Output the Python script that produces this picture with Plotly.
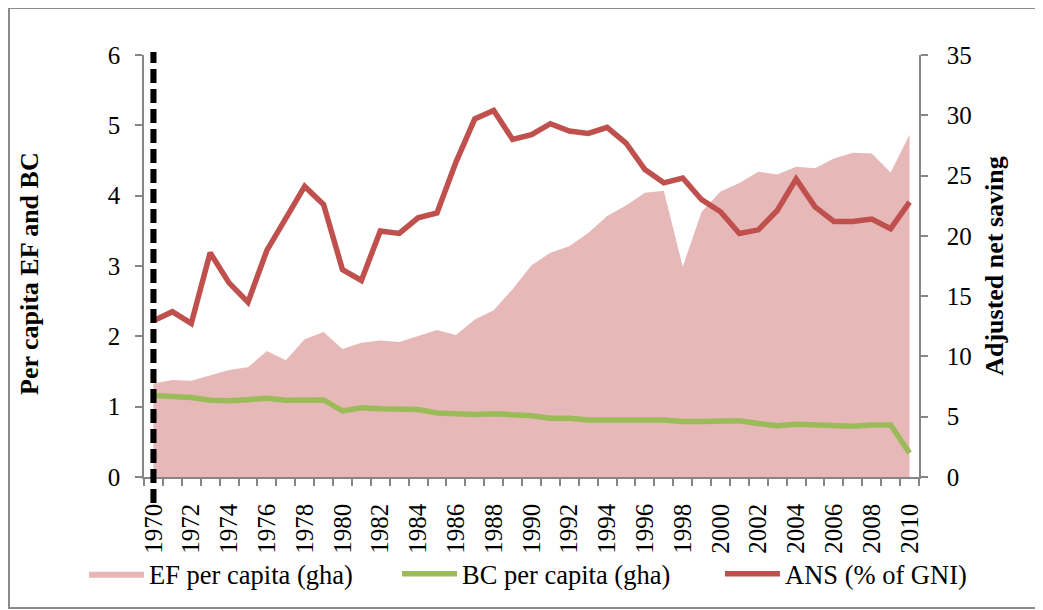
import plotly.graph_objects as go

years = list(range(1970, 2011))

ef_per_capita = [1.33, 1.38, 1.37, 1.45, 1.52, 1.56, 1.79, 1.66, 1.96, 2.06,
                 1.82, 1.91, 1.94, 1.92, 2.00, 2.09, 2.02, 2.24, 2.37, 2.67,
                 3.01, 3.19, 3.28, 3.47, 3.71, 3.86, 4.04, 4.07, 2.99, 3.77,
                 4.06, 4.18, 4.34, 4.30, 4.41, 4.39, 4.53, 4.61, 4.60, 4.33,
                 4.87]

bc_per_capita = [1.16, 1.14, 1.13, 1.09, 1.085, 1.10, 1.12, 1.09, 1.10, 1.095,
                 0.94, 0.985, 0.97, 0.97, 0.96, 0.91, 0.90, 0.89, 0.90, 0.89,
                 0.87, 0.835, 0.835, 0.81, 0.805, 0.805, 0.81, 0.81, 0.79, 0.79,
                 0.79, 0.80, 0.76, 0.73, 0.75, 0.74, 0.725, 0.72, 0.74, 0.74,
                 0.34]

ans_pct_gni = [12.96, 13.71, 12.74, 18.6, 16.1, 14.5, 18.8, 21.4, 24.1, 22.6,
               17.2, 16.3, 20.4, 20.2, 21.5, 21.9, 26.1, 29.7, 30.4, 28.0,
               28.4, 29.3, 28.7, 28.5, 29.0, 27.7, 25.5, 24.4, 24.8, 23.0,
               22.0, 20.2, 20.5, 22.1, 24.7, 22.4, 21.2, 21.2, 21.4, 20.6,
               22.8]

left_ticks = [0, 1, 2, 3, 4, 5, 6]
right_ticks = [0, 5, 10, 15, 20, 25, 30, 35]
x_label_years = list(range(1970, 2011, 2))
marker_year = 1970

names = ["EF per capita (gha)", "BC per capita (gha)", "ANS (% of GNI)"]
left_title = "Per capita EF and BC"
right_title = "Adjusted net saving"

FONT = "Liberation Serif"
W, H = 1043, 610
OFF = 8  # page body margin
# plot area in screen pixels
SL, SR, ST, SB = 144, 919, 55, 477
ML, MT = SL - OFF, ST - OFF
PW, PH = SR - SL, SB - ST
MR, MB = W - ML - PW, H - MT - PH


def px_x(sx):
    return (sx - SL) / PW


def px_y(sy):
    return (SB - sy) / PH


fig = go.Figure()
fig.add_trace(go.Scatter(
    x=years, y=ef_per_capita, name=names[0], mode="lines",
    fill="tozeroy", fillcolor="rgb(230,185,184)",
    line=dict(width=0, color="rgb(230,185,184)"), yaxis="y",
    legendwidth=243))
fig.add_trace(go.Scatter(
    x=years, y=bc_per_capita, name=names[1], mode="lines",
    line=dict(width=5.5, color="#9BBB59"), yaxis="y",
    legendwidth=253))
fig.add_trace(go.Scatter(
    x=years, y=ans_pct_gni, name=names[2], mode="lines",
    line=dict(width=5.5, color="#C0504D"), yaxis="y2",
    legendwidth=190))

axis_gray = "#868686"

shapes = [
    # chart border
    dict(type="rect", xref="paper", yref="paper",
         x0=px_x(9), x1=px_x(1041), y0=px_y(608), y1=px_y(8),
         line=dict(color="#8c8c8c", width=2), layer="below"),
    # shadow of marker line
    dict(type="line", xref="x", yref="paper",
         x0=marker_year, x1=marker_year, x0shift=0.2, x1shift=0.2,
         y0=px_y(503), y1=px_y(52),
         line=dict(color="rgba(0,0,0,0.22)", width=6, dash="14px,6px"),
         layer="above"),
    # marker line
    dict(type="line", xref="x", yref="paper",
         x0=marker_year, x1=marker_year, x0shift=0.08, x1shift=0.08,
         y0=px_y(503), y1=px_y(52),
         line=dict(color="black", width=6, dash="14px,6px"),
         layer="above"),
]

annotations = [
    dict(text="<b>" + left_title + "</b>", xref="paper", yref="paper",
         x=px_x(29), y=px_y(274), xanchor="center", yanchor="middle",
         textangle=-90, showarrow=False,
         font=dict(family=FONT, size=26, color="black")),
]

fig.update_layout(
    shapes=shapes, annotations=annotations,
    width=W, height=H,
    margin=dict(l=ML, r=MR, t=MT, b=MB, autoexpand=False),
    paper_bgcolor="white", plot_bgcolor="white",
    font=dict(family=FONT, size=25, color="black"),
    showlegend=True,
    legend=dict(orientation="h", x=px_x(84), xanchor="left",
                y=px_y(574), yanchor="middle",
                font=dict(family=FONT, size=26.5, color="black"),
                itemwidth=55,
                bgcolor="rgba(0,0,0,0)", tracegroupgap=0),
    xaxis=dict(
        range=[1969.5, 2010.5], tickmode="array", tickvals=x_label_years,
        ticktext=[str(y) for y in x_label_years], tickangle=-90,
        ticks="", showline=True, linecolor=axis_gray, linewidth=1.5,
        showgrid=False, zeroline=False, ticklabelstandoff=15,
        tickfont=dict(family=FONT, size=25, color="black"),
        minor=dict(ticks="outside", tick0=1969.5, dtick=1, ticklen=7,
                   tickcolor=axis_gray, tickwidth=1.5, showgrid=False)),
    yaxis=dict(
        range=[0, 6], tickmode="array", tickvals=left_ticks,
        ticks="outside", ticklen=7, tickcolor=axis_gray, tickwidth=1.5,
        showline=True, linecolor=axis_gray, linewidth=1.5,
        showgrid=False, zeroline=False, ticklabelstandoff=10,
        tickfont=dict(family=FONT, size=25, color="black")),
    yaxis2=dict(
        range=[0, 35], tickmode="array", tickvals=right_ticks,
        overlaying="y", side="right",
        ticks="outside", ticklen=7, tickcolor=axis_gray, tickwidth=1.5,
        showline=True, linecolor=axis_gray, linewidth=1.5,
        showgrid=False, zeroline=False, ticklabelstandoff=14,
        tickfont=dict(family=FONT, size=25, color="black"),
        title=dict(text="<b>" + right_title + "</b>", standoff=14,
                   font=dict(family=FONT, size=26, color="black"))),
)

fig.write_html("out.html")
